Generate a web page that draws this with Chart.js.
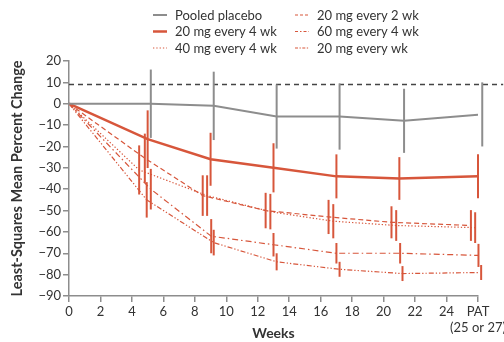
<!DOCTYPE html>
<html>
<head>
<meta charset="utf-8">
<script src="https://cdn.jsdelivr.net/npm/chart.js@4"></script>
<style>
  html, body { margin: 0; padding: 0; background: #fff; }
  #wrap { width: 504px; height: 342px; }
</style>
</head>
<body>
<div id="wrap"><canvas id="chart"></canvas></div>
<script>
// values (weeks are slightly jittered like the original)
const xTicks = [0, 2, 4, 6, 8, 10, 12, 14, 16, 18, 20, 22, 24, 26];
const patLabel = ["PAT", "(25 or 27)"];
const refLine = 9;

const placeboWeeks = [0, 5.2, 9.2, 13.2, 17.2, 21.3, 26.27];
const placeboMean = [0, 0, -1, -6, -6, -8, -5];
const placeboErr = [0, 16, 16, 15, 15.5, 15, 15];

const q4w20Weeks = [0, 5, 9, 13, 17, 21, 26];
const q4w20Mean = [0, -16.6, -26, -30, -34, -35, -34];
const q4w20Err = [0, 13.5, 12.4, 11.5, 10.3, 10, 10.3];

const q4w40Weeks = [0, 4.46, 8.78, 12.8, 16.8, 20.8, 25.82];
const q4w40Mean = [0, -31, -43, -50.5, -55, -57, -58];
const q4w40Err = [0, 11.5, 9.5, 8.3, 8, 7.2, 7.2];

const q2w20Weeks = [0, 4.82, 8.5, 12.5, 16.5, 20.5, 25.55];
const q2w20Mean = [0, -25.5, -43, -50, -53, -55.5, -57];
const q2w20Err = [0, 11.5, 9.5, 8.3, 8, 7.5, 7.2];

const q4w60Weeks = [0, 5.2, 9.04, 13.0, 17.0, 21.05, 26.03];
const q4w60Mean = [0, -40, -62, -66, -70, -70, -71];
const q4w60Err = [0, 9.5, 8, 5.5, 4.8, 4.8, 5.4];

const qw20Weeks = [0, 4.94, 9.2, 13.2, 17.2, 21.2, 26.2];
const qw20Mean = [0, -45, -65, -74, -77.5, -79.5, -79];
const qw20Err = [0, 8.3, 6, 4, 3.5, 3.5, 3.5];

const RED = "#d7563b";
const GREY = "#8d8d8d";
const TEXT = "#333333";
const FONT = "Lato";

function pts(xs, ys) {
  return xs.map((x, i) => ({ x: x, y: ys[i] }));
}

// vertical error bars, drawn through the chart's own scales
const errorBars = {
  id: "errorBars",
  afterDatasetsDraw(chart) {
    const ctx = chart.ctx;
    const xs = chart.scales.x, ys = chart.scales.y;
    chart.data.datasets.forEach((ds) => {
      if (!ds.errors) return;
      ctx.save();
      ctx.strokeStyle = ds.borderColor;
      ctx.lineWidth = 2;
      ctx.setLineDash([]);
      ds.data.forEach((p, i) => {
        const e = ds.errors[i];
        if (!e) return;
        const px = xs.getPixelForValue(p.x);
        ctx.beginPath();
        ctx.moveTo(px, ys.getPixelForValue(p.y + e));
        ctx.lineTo(px, ys.getPixelForValue(p.y - e));
        ctx.stroke();
      });
      ctx.restore();
    });
  },
};

// two column legend at the top
const legendOrder = [0, 1, 2, 3, 4, 5];
const twoColLegend = {
  id: "twoColLegend",
  afterDraw(chart) {
    const ctx = chart.ctx;
    ctx.save();
    legendOrder.forEach((idx, i) => {
      const ds = chart.data.datasets[idx];
      const col = Math.floor(i / 3);
      const row = i % 3;
      const x = col === 0 ? 153 : 295;
      const y = 15 + row * 16.5;
      ctx.strokeStyle = ds.borderColor;
      ctx.lineWidth = ds.legendWidth || 1.5;
      ctx.setLineDash(ds.legendDash || []);
      ctx.beginPath();
      ctx.moveTo(x, y);
      ctx.lineTo(x + 14, y);
      ctx.stroke();
      ctx.setLineDash([]);
      ctx.fillStyle = TEXT;
      ctx.font = "13px " + FONT;
      ctx.textBaseline = "middle";
      ctx.fillText(ds.label, x + 22, y + 0.5);
    });
    ctx.restore();
  },
};

const datasets = [
  {
    label: "Pooled placebo",
    data: pts(placeboWeeks, placeboMean),
    errors: placeboErr,
    borderColor: GREY,
    borderWidth: 2,
    legendWidth: 2,
  },
  {
    label: "20 mg every 4 wk",
    data: pts(q4w20Weeks, q4w20Mean),
    errors: q4w20Err,
    borderColor: RED,
    borderWidth: 2.5,
    legendWidth: 2.5,
  },
  {
    label: "40 mg every 4 wk",
    data: pts(q4w40Weeks, q4w40Mean),
    errors: q4w40Err,
    borderColor: RED,
    borderWidth: 1.2,
    borderDash: [1.3, 2],
    legendWidth: 1.2,
    legendDash: [1.3, 2],
  },
  {
    label: "20 mg every 2 wk",
    data: pts(q2w20Weeks, q2w20Mean),
    errors: q2w20Err,
    borderColor: RED,
    borderWidth: 1.2,
    borderDash: [5, 3],
    legendWidth: 1.2,
    legendDash: [3, 2],
  },
  {
    label: "60 mg every 4 wk",
    data: pts(q4w60Weeks, q4w60Mean),
    errors: q4w60Err,
    borderColor: RED,
    borderWidth: 1.2,
    borderDash: [6, 3, 1.5, 3],
    legendWidth: 1.2,
    legendDash: [3, 2, 1.5, 2],
  },
  {
    label: "20 mg every wk",
    data: pts(qw20Weeks, qw20Mean),
    errors: qw20Err,
    borderColor: RED,
    borderWidth: 1.2,
    borderDash: [5, 2, 1.3, 2, 1.3, 2],
    legendWidth: 1.2,
    legendDash: [3, 1.5, 1.3, 1.5],
  },
  {
    label: "reference",
    data: [{ x: 0, y: refLine }, { x: 27.6, y: refLine }],
    borderColor: "#444",
    borderWidth: 1.3,
    borderDash: [5, 4],
    clip: false,
  },
];

datasets.forEach((ds) => {
  ds.pointRadius = 0;
  ds.tension = 0;
  ds.fill = false;
});

new Chart(document.getElementById("chart"), {
  type: "line",
  data: { datasets: datasets },
  plugins: [errorBars, twoColLegend],
  options: {
    responsive: true,
    maintainAspectRatio: false,
    animation: false,
    layout: { padding: { top: 61, right: 26, left: 0, bottom: 0 } },
    plugins: {
      legend: { display: false },
      tooltip: { enabled: false },
    },
    scales: {
      x: {
        type: "linear",
        min: 0,
        max: 26,
        afterBuildTicks: (s) => {
          s.ticks = xTicks.map((v) => ({ value: v }));
        },
        afterFit: (s) => {
          s.height = 46;
          s.paddingRight = 0;
          s.paddingLeft = 0;
        },
        border: { color: GREY, width: 1.5 },
        grid: { drawOnChartArea: false, color: GREY, lineWidth: 1.5, tickLength: 6 },
        ticks: {
          color: TEXT,
          font: { family: FONT, size: 13 },
          padding: 2,
          maxRotation: 0,
          autoSkip: false,
          callback: (v) => (v === 26 ? patLabel : String(v)),
        },
        title: {
          display: true,
          text: "Weeks",
          color: TEXT,
          font: { family: FONT, size: 14, weight: "bold" },
          padding: { top: 0, bottom: 0 },
        },
      },
      y: {
        min: -90,
        max: 20,
        afterFit: (s) => {
          s.width = 69;
        },
        border: { color: GREY, width: 1.5 },
        grid: { drawOnChartArea: false, color: GREY, lineWidth: 1.5, tickLength: 6 },
        ticks: {
          stepSize: 10,
          color: TEXT,
          font: { family: FONT, size: 13 },
          padding: 2,
          callback: (v) => String(v).replace("-", "\u2212"),
        },
        title: {
          display: true,
          text: "Least-Squares Mean Percent Change",
          color: TEXT,
          font: { family: FONT, size: 14.5, weight: "bold" },
          padding: { top: 9, bottom: 0 },
        },
      },
    },
  },
});
</script>
</body>
</html>
